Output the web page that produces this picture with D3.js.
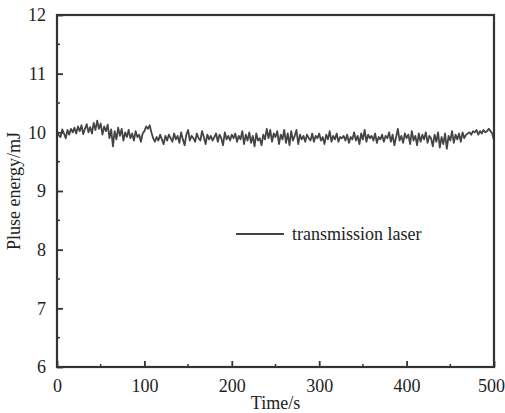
<!DOCTYPE html>
<html>
<head>
<meta charset="utf-8">
<script src="https://cdn.jsdelivr.net/npm/d3@7"></script>
<style>
  body { margin: 0; background: #fff; }
  svg { display: block; }
  text { font-family: "Liberation Serif", "Times New Roman", serif; fill: #222; }
</style>
</head>
<body>
<svg id="chart" width="505" height="413"></svg>
<script>
// pulse energy sampled every 2 s, 0..500 s
const timeStep = 2;
const energy = [
  10.02, 9.95, 9.92, 10.05, 9.98, 9.90, 10.04, 9.96, 10.06, 10.00,
  10.08, 9.98, 10.10, 10.02, 10.12, 9.97, 10.06, 10.14, 10.00, 10.09,
  9.98, 10.16, 10.04, 10.20, 10.06, 10.15, 9.96, 10.10, 10.02, 10.13,
  9.90, 10.05, 9.76, 10.02, 9.88, 10.08, 9.94, 10.06, 9.86, 10.00,
  9.92, 10.04, 9.90, 9.98, 9.86, 10.02, 9.92, 9.96, 9.84, 9.98,
  10.02, 10.10, 10.06, 10.12, 10.00, 9.90, 9.84, 9.92, 9.86, 9.96,
  9.88, 9.80, 9.94, 9.86, 9.96, 9.90, 9.84, 9.98, 9.88, 9.94,
  9.82, 10.00, 9.88, 9.78, 9.96, 10.04, 9.86, 9.94, 9.90, 9.84,
  9.98, 9.90, 9.86, 10.02, 9.92, 9.80, 9.96, 9.88, 9.94, 9.86,
  9.92, 9.98, 9.84, 9.96, 9.90, 9.78, 10.00, 9.88, 9.94, 9.86,
  9.96, 9.90, 9.98, 9.84, 9.94, 9.88, 10.02, 9.80, 9.96, 9.86,
  10.00, 9.82, 9.94, 9.76, 9.98, 9.86, 9.90, 9.78, 9.96, 9.88,
  10.06, 9.90, 10.04, 9.84, 9.98, 9.92, 10.02, 9.80, 9.96, 9.88,
  10.04, 9.82, 9.98, 9.78, 10.02, 9.86, 9.94, 10.04, 9.80, 9.96,
  9.88, 9.94, 9.84, 9.96, 9.90, 9.86, 9.98, 9.84, 9.94, 9.90,
  9.98, 9.86, 9.92, 9.80, 9.96, 9.88, 10.02, 9.84, 9.94, 9.88,
  9.98, 9.84, 9.92, 9.90, 9.94, 9.86, 9.96, 9.82, 9.92, 9.88,
  10.00, 9.86, 9.94, 9.80, 9.98, 9.88, 10.04, 9.84, 9.96, 9.90,
  9.94, 9.86, 9.98, 9.82, 9.92, 9.88, 9.96, 9.84, 9.94, 9.90,
  10.00, 9.84, 9.96, 9.78, 9.92, 10.06, 9.86, 9.94, 9.82, 9.98,
  9.90, 9.96, 9.80, 10.02, 9.86, 9.94, 9.78, 9.98, 9.84, 9.96,
  9.88, 10.00, 9.82, 9.94, 9.90, 9.76, 9.96, 9.84, 10.00, 9.74,
  9.92, 9.80, 9.98, 9.72, 9.94, 9.86, 10.02, 9.82, 9.96, 9.88,
  9.98, 9.84, 10.00, 9.90, 9.96, 9.98, 10.00, 9.96, 10.02, 10.00,
  10.04, 9.96, 10.02, 9.98, 10.04, 10.00, 10.02, 10.06, 10.02, 9.98,
  9.86
];
const xTicks = [0, 100, 200, 300, 400, 500];
const yTicks = [6, 7, 8, 9, 10, 11, 12];
const seriesName = 'transmission laser';

const svg = d3.select('#chart'),
  margin = { top: 15, right: 11, bottom: 46, left: 57 },
  width = 505 - margin.left - margin.right,
  height = 413 - margin.top - margin.bottom,
  ink = '#333',
  fs = 18;

const x = d3.scaleLinear().domain([0, 500]).range([0, width]);
const y = d3.scaleLinear().domain([6, 12]).range([height, 0]);

const g = svg.append('g').attr('transform', `translate(${margin.left},${margin.top})`);

// minor ticks (halfway), inward
const xMinor = d3.range(50, 500, 100), yMinor = d3.range(6.5, 12, 1);
g.selectAll('.xminor').data(xMinor).join('line')
  .attr('x1', d => x(d)).attr('x2', d => x(d))
  .attr('y1', height).attr('y2', height - 3)
  .attr('stroke', ink).attr('stroke-width', 1.5);
g.selectAll('.yminor').data(yMinor).join('line')
  .attr('x1', 0).attr('x2', 3)
  .attr('y1', d => y(d)).attr('y2', d => y(d))
  .attr('stroke', ink).attr('stroke-width', 1.5);

const xAxis = g.append('g').attr('transform', `translate(0,${height})`)
  .call(d3.axisBottom(x).tickValues(xTicks).tickFormat(d3.format('d'))
    .tickSizeInner(-6).tickSizeOuter(0).tickPadding(12));
const yAxis = g.append('g')
  .call(d3.axisLeft(y).tickValues(yTicks).tickFormat(d3.format('d'))
    .tickSizeInner(-6).tickSizeOuter(0).tickPadding(11));

[xAxis, yAxis].forEach(a => {
  a.select('.domain').remove();
  a.selectAll('.tick line').attr('stroke', ink).attr('stroke-width', 1.8);
  a.selectAll('.tick text').attr('font-size', fs).attr('fill', '#222')
    .attr('font-family', '"Liberation Serif", serif');
});
// keep the last x label inside the page
xAxis.selectAll('.tick text').filter(d => d === 500).attr('dx', -3);

// data line
const line = d3.line()
  .x((d, i) => x(i * timeStep))
  .y(d => y(d));
g.append('path').datum(energy)
  .attr('d', line)
  .attr('fill', 'none')
  .attr('stroke', '#444')
  .attr('stroke-width', 1.8)
  .attr('stroke-linejoin', 'round');

// frame
g.append('rect').attr('width', width).attr('height', height)
  .attr('fill', 'none').attr('stroke', ink).attr('stroke-width', 2.2);

// legend
const lg = g.append('g').attr('transform', `translate(${236 - margin.left},${234 - margin.top})`);
lg.append('line').attr('x1', 0).attr('x2', 48).attr('y1', 0).attr('y2', 0)
  .attr('stroke', '#444').attr('stroke-width', 1.8);
lg.append('text').attr('x', 56).attr('y', 6).attr('font-size', fs).text(seriesName);

// axis titles
svg.append('text').attr('x', margin.left + width / 2).attr('y', 409)
  .attr('text-anchor', 'middle').attr('font-size', fs).text('Time/s');
svg.append('text').attr('transform', `translate(20,${margin.top + height / 2}) rotate(-90)`)
  .attr('text-anchor', 'middle').attr('font-size', fs).text('Pluse energy/mJ');
</script>
</body>
</html>
